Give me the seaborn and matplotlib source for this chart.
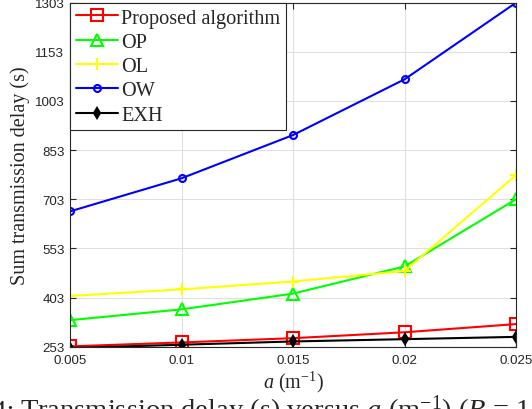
import numpy as np
import pandas as pd
import matplotlib
matplotlib.use("Agg")
import matplotlib.pyplot as plt
import seaborn as sns

# values
a_values = [0.005, 0.01, 0.015, 0.02, 0.025]
proposed = [254, 266, 279, 297, 322]
op = [334, 367, 415, 498, 703]
ol = [408, 428, 452, 484, 777]
ow = [666, 767, 899, 1069, 1303]
exh = [249, 259, 269, 276, 283]

series_names = ["Proposed algorithm", "OP", "OL", "OW", "EXH"]
y_ticks = [253, 403, 553, 703, 853, 1003, 1153, 1303]
x_tick_labels = ["0.005", "0.01", "0.015", "0.02", "0.025"]

df = pd.DataFrame({
    "a": a_values * 5,
    "delay": proposed + op + ol + ow + exh,
    "method": [n for n in series_names for _ in a_values],
})

styles = {
    "Proposed algorithm": dict(color=(1, 0, 0), marker="s", ms=8, mfc="none"),
    "OP": dict(color=(0, 1, 0), marker="^", ms=8.5, mfc="none"),
    "OL": dict(color=(1, 1, 0), marker="+", ms=9, mfc="none"),
    "OW": dict(color=(0, 0, 1), marker="o", ms=5, mfc="none"),
    "EXH": dict(color=(0, 0, 0), marker="d", ms=5, mfc=(0, 0, 0)),
}

sns.set_style("ticks")
plt.rcParams["font.family"] = ["Liberation Sans", "DejaVu Sans"]
plt.rcParams["mathtext.fontset"] = "custom"
plt.rcParams["mathtext.rm"] = "Liberation Serif"
plt.rcParams["mathtext.it"] = "Liberation Serif:italic"
serif = ["Liberation Serif", "DejaVu Serif"]

fig = plt.figure(figsize=(5.32, 4.10), dpi=100)
ax = fig.add_axes([70 / 532, 1 - 347.7 / 410, 446 / 532, 344 / 410])

for name in series_names:
    st = styles[name]
    sub = df[df["method"] == name]
    sns.lineplot(data=sub, x="a", y="delay", ax=ax, color=st["color"],
                 marker=st["marker"], ms=st["ms"], mfc=st["mfc"],
                 mec=st["color"], mew=1.5, lw=1.5, label=name)

ax.set_xlim(0.005, 0.025)
ax.set_ylim(253, 1303)
ax.set_xticks(a_values)
ax.set_xticklabels(x_tick_labels)
ax.set_yticks(y_ticks)
ax.tick_params(direction="in", top=True, right=True, labelsize=9.6,
               colors="#262626", length=4)
ax.tick_params(axis="x", pad=5)
ax.tick_params(axis="y", pad=4)
ax.grid(True, color="#e0e0e0", lw=0.8)
for sp in ax.spines.values():
    sp.set_color("#262626")
    sp.set_linewidth(0.8)

ax.set_xlabel("$a$ (m$^{\\mathrm{-1}}$)", family=serif, fontsize=14.5, labelpad=2)
ax.set_ylabel("Sum transmission delay (s)", family=serif, fontsize=14.5, labelpad=3)

leg = ax.legend(loc="upper left", prop={"family": serif, "size": 14.6},
                frameon=True, fancybox=False, borderaxespad=0, labelspacing=0.25,
                handlelength=2.1, handletextpad=0.15, borderpad=0.28)
leg.get_frame().set_edgecolor("#262626")
leg.get_frame().set_linewidth(0.8)
leg.get_frame().set_alpha(1)

# caption, cut off by the bottom edge as in the reference
cap_y = -9 / 410
fig.text(14 / 532, cap_y, "Fig. 4:", family=serif, fontsize=20.5,
         va="baseline", ha="right")
fig.text(20 / 532, cap_y, "Transmission delay (s) versus $a$ (m$^{-1}$) ($B$ = 1",
         family=serif, fontsize=20.5, va="baseline", ha="left")

fig.savefig("out.png", dpi=100)
